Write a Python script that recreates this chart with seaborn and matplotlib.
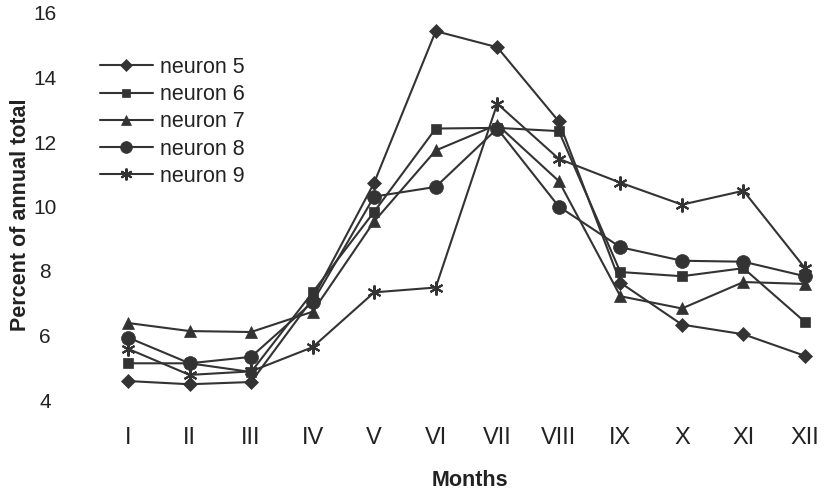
import matplotlib
matplotlib.use("Agg")
import matplotlib.pyplot as plt
import seaborn as sns
import pandas as pd

months = ["I", "II", "III", "IV", "V", "VI", "VII", "VIII", "IX", "X", "XI", "XII"]
neuron5 = [4.65, 4.55, 4.62, 7.2, 10.8, 15.5, 15.0, 12.7, 7.7, 6.4, 6.1, 5.43]
neuron6 = [5.2, 5.2, 4.93, 7.4, 9.9, 12.48, 12.5, 12.4, 8.03, 7.9, 8.15, 6.48]
neuron7 = [6.45, 6.2, 6.17, 6.8, 9.6, 11.8, 12.6, 10.85, 7.28, 6.9, 7.72, 7.66]
neuron8 = [6.0, 5.2, 5.4, 7.1, 10.37, 10.67, 12.48, 10.06, 8.8, 8.38, 8.35, 7.9]
neuron9 = [5.65, 4.84, 4.95, 5.7, 7.4, 7.55, 13.25, 11.54, 10.8, 10.12, 10.55, 8.15]
yticks = [4, 6, 8, 10, 12, 14, 16]

series = {
    "neuron 5": neuron5,
    "neuron 6": neuron6,
    "neuron 7": neuron7,
    "neuron 8": neuron8,
    "neuron 9": neuron9,
}
markers = {"neuron 5": "D", "neuron 6": "s", "neuron 7": "^", "neuron 8": "o", "neuron 9": (6, 2, 0)}
msizes = {"neuron 5": 7, "neuron 6": 7, "neuron 7": 8, "neuron 8": 10, "neuron 9": 10}

sns.set_style("white")
plt.rcParams["font.family"] = ["Liberation Sans", "DejaVu Sans"]

fig = plt.figure(figsize=(8.24, 4.93), dpi=100)
ax = fig.add_axes([0.0, 91 / 493, 1.0, 387 / 493])

color = "#333333"
tcolor = "#222222"
pos = list(range(1, len(months) + 1))
for name, vals in series.items():
    df = pd.DataFrame({"x": pos, "y": vals})
    sns.lineplot(data=df, x="x", y="y", ax=ax, color=color, marker=markers[name],
                 markersize=msizes[name], linewidth=1.5, label=name,
                 markeredgecolor=color, markeredgewidth=1.5 if name == "neuron 9" else 0.5,
                 clip_on=False)

# x: 1 at px 128, 12 at px 805
ppu = (805 - 128) / 11
x0 = 1 - 128 / ppu
x1 = x0 + 824 / ppu
ax.set_xlim(x0, x1)
ax.set_ylim(4, 16)
ax.set_yticks(yticks)
ax.set_xticks(pos)
ax.set_xticklabels(months, fontsize=17, color=tcolor)
for s in ax.spines.values():
    s.set_visible(False)
ax.tick_params(axis="both", length=0)
ax.tick_params(axis="x", pad=18)
ax.yaxis.set_tick_params(labelleft=False)
for v in yticks:
    ax.text(45 / 824 * (x1 - x0) + x0, v, str(v), ha="center", va="center", fontsize=15, color=tcolor)
ax.set_xlabel("")
ax.set_ylabel("")
fig.text(21 / 824, (493 - 215) / 493, "Percent of annual total", rotation=90, ha="center", va="center",
         fontsize=15.5, fontweight="bold", color=tcolor)
fig.text(470 / 824, 12 / 493, "Months", ha="center", va="center", fontsize=15.5, fontweight="bold",
         color=tcolor)

leg = ax.legend(loc="upper left", bbox_to_anchor=(100 / 824, (493 - 57) / 493), bbox_transform=fig.transFigure,
                frameon=False, fontsize=15.5, handlelength=2.45, handletextpad=0.33, labelspacing=0.29,
                borderaxespad=0, borderpad=0, markerscale=0.85)
for t in leg.get_texts():
    t.set_color(tcolor)

fig.savefig("out.png", dpi=100)
